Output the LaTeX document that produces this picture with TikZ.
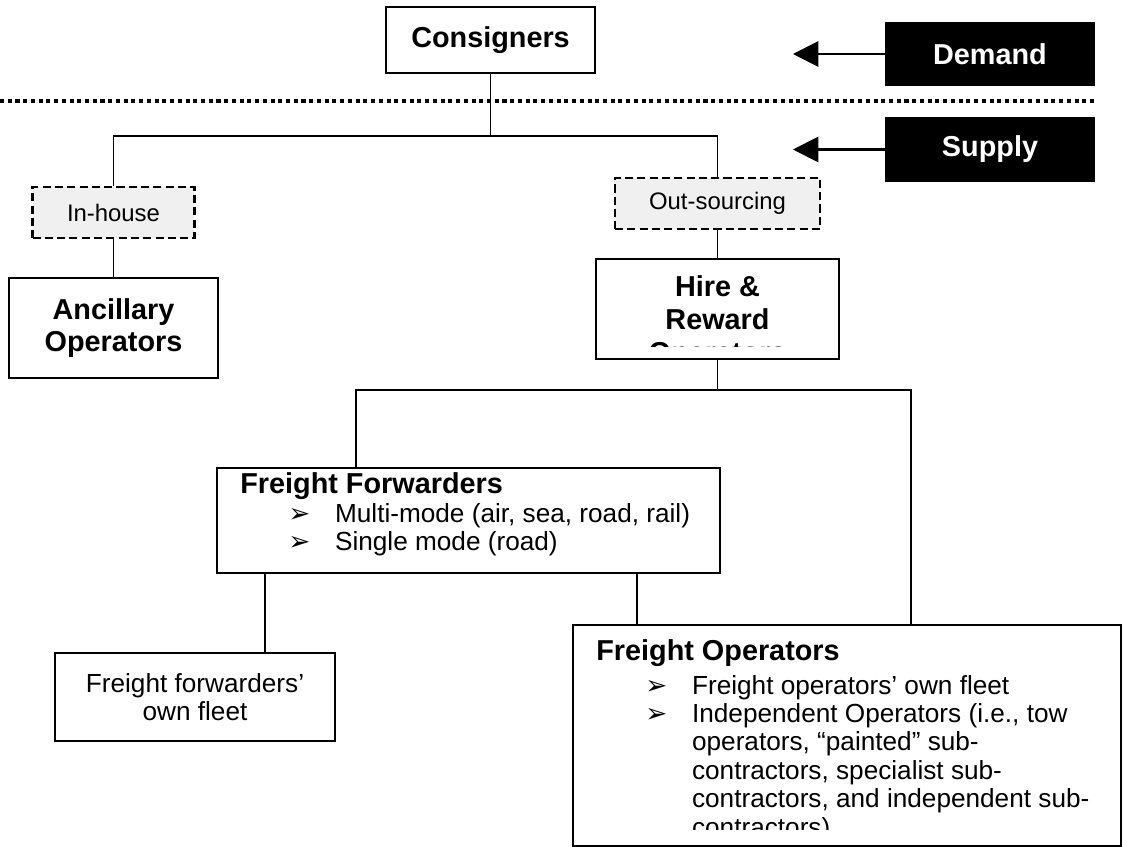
\documentclass[tikz,border=0pt]{standalone}
\usepackage{fontspec}
\setmainfont{Liberation Sans}
\newfontfamily\dejavu{DejaVu Sans}
\usetikzlibrary{arrows.meta}

\newcommand{\headfont}{\fontsize{16.4pt}{18.7pt}\selectfont\bfseries}
\newcommand{\bodyfont}{\fontsize{14.9pt}{16.2pt}\selectfont}
\newcommand{\tagfont}{\fontsize{13.6pt}{15pt}\selectfont}
\newcommand{\itembullet}{\makebox[26.6pt][l]{\fontsize{15pt}{16pt}\selectfont\dejavu ➢}}

\tikzset{
  box/.style={draw, line width=1.5pt, inner sep=0pt},
  tagbox/.style={draw, dash pattern=on 4.6pt off 2.4pt, line width=1.3pt, fill=black!6, inner sep=0pt, font=\tagfont},
  sidebox/.style={fill=black, text=white, inner sep=0pt, font=\headfont},
  link/.style={line width=1pt},
  pointer/.style={line width=1.2pt, -{Triangle[length=14.5pt,width=14.5pt]}},
  txt/.style={inner sep=0pt}
}

\begin{document}
\begin{tikzpicture}[x=0.02cm, y=-0.02cm]
  \useasboundingbox (0,0) rectangle (1125,847);

  % demand side
  \node[box, font=\headfont, minimum width=4.18cm, minimum height=1.32cm] (consigners) at (490.5,40) {Consigners};
  \node[sidebox, minimum width=4.2cm, minimum height=1.28cm] (demand) at (990,54) {Demand};
  \node[sidebox, minimum width=4.2cm, minimum height=1.3cm] (supply) at (990,149.5) {Supply};
  \coordinate (demandtip) at (793,54);
  \coordinate (supplytip) at (793,149.5);
  \draw[pointer] (demand.west) -- (demandtip);
  \draw[pointer] (supply.west) -- (supplytip);
  \draw[line width=2pt, dash pattern=on 2.3pt off 2.1pt] (0,101) -- (1095,101);

  % in-house / out-sourcing
  \node[tagbox, minimum width=3.24cm, minimum height=1.02cm] (inhouse) at (113.5,212.5) {In-house};
  \node[box, font=\headfont, align=center, minimum width=4.18cm, minimum height=2cm] (ancillary) at (113.5,328) {Ancillary\\Operators};
  \node[tagbox, minimum width=4.1cm, minimum height=1.02cm] (outsourcing) at (717.5,203.5) {Out-sourcing};
  \node[box, minimum width=4.86cm, minimum height=2cm] (hire) at (717.5,309) {};
  \begin{scope}
    \clip (600,262) rectangle (835,347);
    \node[txt, font=\headfont, anchor=base] (hiretext) at (717.5,297) {\begin{tabular}[t]{@{}c@{}}Hire \&\\Reward\\Operators\end{tabular}};
  \end{scope}

  \coordinate (split) at (0,136);
  \draw[link] (consigners.south) -- (consigners.south |- split);
  \draw[link] (inhouse.north) -- (inhouse.north |- split) -- (outsourcing.north |- split) -- (outsourcing.north);
  \draw[link] (inhouse.south) -- (ancillary.north);
  \draw[link] (outsourcing.south) -- (hire.north);

  % hire & reward operators
  \node[box, minimum width=10.06cm, minimum height=2.1cm] (forwarders) at (468.5,520.5) {};
  \node[txt, font=\headfont, anchor=base west] (fftitle) at (240,493) {Freight Forwarders};
  \node[txt, font=\bodyfont, anchor=base west] (fflist) at (288,522) {\begin{tabular}[t]{@{}l@{}}\itembullet Multi-mode (air, sea, road, rail)\\ \itembullet Single mode (road)\end{tabular}};

  \node[box, font=\bodyfont, align=center, minimum width=5.6cm, minimum height=1.76cm] (ownfleet) at (195,697) {Freight forwarders’\\own fleet};

  \node[box, minimum width=10.96cm, minimum height=4.42cm] (operators) at (847,735.5) {};
  \begin{scope}
    \clip (576,628) rectangle (1118,829);
    \node[txt, font=\headfont, anchor=base west] (fotitle) at (596,660) {Freight Operators};
    \node[txt, font=\bodyfont, anchor=base west] (folist) at (645,694) {\begin{tabular}[t]{@{}l@{}}\itembullet Freight operators’ own fleet\\
      \itembullet Independent Operators (i.e., tow\\
      \hspace*{26.6pt}operators, “painted” sub-\\
      \hspace*{26.6pt}contractors, specialist sub-\\
      \hspace*{26.6pt}contractors, and independent sub-\\
      \hspace*{26.6pt}contractors)\end{tabular}};
  \end{scope}

  \coordinate (forkL) at (356,390);
  \coordinate (forkR) at (911,390);
  \coordinate (dropL) at (265,0);
  \coordinate (dropR) at (637,0);
  \draw[link] (hire.south) -- (hire.south |- forkL);
  \draw[link] (forwarders.north -| forkL) -- (forkL) -- (forkR) -- (operators.north -| forkR);
  \draw[link] (forwarders.south -| dropL) -- (ownfleet.north -| dropL);
  \draw[link] (forwarders.south -| dropR) -- (operators.north -| dropR);
\end{tikzpicture}
\end{document}
